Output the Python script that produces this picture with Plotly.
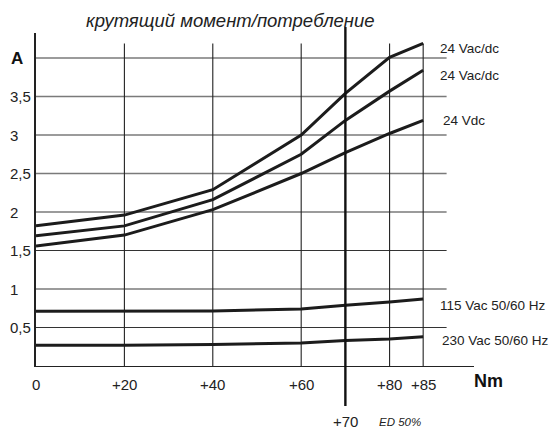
import plotly.graph_objects as go

# ---- data ----
torque_nm = [0, 20, 40, 60, 70, 80, 85]
series_names = ["24 Vac/dc", "24 Vac/dc", "24 Vdc", "115 Vac 50/60 Hz", "230 Vac 50/60 Hz"]
s_24vacdc_a = [1.82, 1.96, 2.29, 3.00, 3.54, 4.01, 4.19]
s_24vacdc_b = [1.69, 1.82, 2.16, 2.75, 3.19, 3.57, 3.84]
s_24vdc = [1.56, 1.70, 2.03, 2.50, 2.77, 3.02, 3.19]
s_115vac = [0.71, 0.71, 0.715, 0.74, 0.79, 0.83, 0.87]
s_230vac = [0.27, 0.27, 0.28, 0.30, 0.33, 0.35, 0.38]
series_values = [s_24vacdc_a, s_24vacdc_b, s_24vdc, s_115vac, s_230vac]

x_ticks = [0, 20, 40, 60, 80, 85]
x_tick_labels = ["0", "+20", "+40", "+60", "+80", "+85"]
y_ticks = [0.5, 1, 1.5, 2, 2.5, 3, 3.5]
y_tick_labels = ["0,5", "1", "1,5", "2", "2,5", "3", "3,5"]
y_unit_tick = 4
ed_torque = 70

title_text = "крутящий момент/потребление"

# ---- scale: the drawing stretches the 80..85 segment ----
def x_pos(nm):
    return nm if nm <= 80 else 80 + (nm - 80) * 1.52

FONT = "Liberation Sans, Arial, sans-serif"
INK = "#1c1c1c"
X_MAX = 99.1
Y_MAX = 4.325
GRID_END = 92.9
VGRID_TOP = 4.19

fig = go.Figure()

for name, vals in zip(series_names, series_values):
    fig.add_trace(go.Scatter(
        x=[x_pos(v) for v in torque_nm], y=vals, mode="lines", name=name,
        line=dict(color=INK, width=3), showlegend=False, hoverinfo="skip"))

shapes = []
# horizontal grid
grid_dark = {0.5, 1.5}
for yv in y_ticks + [y_unit_tick]:
    dark = yv in grid_dark
    shapes.append(dict(type="line", xref="x", yref="y", x0=0, x1=GRID_END, y0=yv, y1=yv,
                       line=dict(color="#333333" if dark else "#7a7a7a", width=1.1 if dark else 1.6),
                       layer="below"))
# vertical grid
for xv in x_ticks[1:]:
    shapes.append(dict(type="line", xref="x", yref="y", x0=x_pos(xv), x1=x_pos(xv), y0=0, y1=VGRID_TOP,
                       line=dict(color="#222222", width=1.1), layer="below"))
# ED 50% line
shapes.append(dict(type="line", xref="x", yref="paper", x0=x_pos(ed_torque), x1=x_pos(ed_torque),
                   y0=-0.12, y1=1.018, line=dict(color="#111111", width=2.4), layer="above"))

annotations = []
# y tick labels
for yv, t in zip(y_ticks, y_tick_labels):
    annotations.append(dict(xref="paper", yref="y", x=-0.064, y=yv, text=t, showarrow=False,
                            xanchor="left", yanchor="middle", font=dict(family=FONT, size=15, color="#222")))
annotations.append(dict(xref="paper", yref="y", x=-0.062, y=y_unit_tick, text="<b>A</b>", showarrow=False,
                        xanchor="left", yanchor="middle", font=dict(family=FONT, size=17, color="#111")))
# x tick labels
for xv, t in zip(x_ticks, x_tick_labels):
    annotations.append(dict(xref="x", yref="paper", x=x_pos(xv), y=-0.057, text=t, showarrow=False,
                            xanchor="center", yanchor="middle", font=dict(family=FONT, size=15, color="#222")))
annotations.append(dict(xref="paper", yref="paper", x=1.032, y=-0.045, text="<b>Nm</b>", showarrow=False,
                        xanchor="center", yanchor="middle", font=dict(family=FONT, size=18, color="#111")))
annotations.append(dict(xref="x", yref="paper", x=x_pos(ed_torque), y=-0.167, text="+70", showarrow=False,
                        xanchor="center", yanchor="middle", font=dict(family=FONT, size=15, color="#222")))
annotations.append(dict(xref="paper", yref="paper", x=(400 - 36) / 438, y=-0.168, text="<i>ED 50%</i>",
                        showarrow=False, xanchor="center", yanchor="middle",
                        font=dict(family=FONT, size=11.5, color="#222")))
# series labels
label_shift = [(15, -5), (15, -5), (18, 0), (15, -6), (17, -4)]
for name, vals, (dx, dy) in zip(series_names, series_values, label_shift):
    annotations.append(dict(xref="x", yref="y", x=x_pos(torque_nm[-1]), y=vals[-1], text=name,
                            showarrow=False, xanchor="left", yanchor="middle", xshift=dx, yshift=dy,
                            font=dict(family=FONT, size=13.5, color="#222")))
# title
annotations.append(dict(xref="paper", yref="paper", x=0.445, y=1.039, text="<i>" + title_text + "</i>",
                        showarrow=False, xanchor="center", yanchor="middle",
                        font=dict(family=FONT, size=18.5, color="#222")))

fig.update_layout(
    width=550, height=434,
    margin=dict(l=36, r=76, t=33, b=68),
    paper_bgcolor="white", plot_bgcolor="white",
    shapes=shapes, annotations=annotations,
    xaxis=dict(range=[0, X_MAX], showgrid=False, zeroline=False, showticklabels=False, ticks="",
               showline=True, linecolor="#222222", linewidth=1.3, fixedrange=True),
    yaxis=dict(range=[0, Y_MAX], showgrid=False, zeroline=False, showticklabels=False, ticks="",
               showline=True, linecolor="#222222", linewidth=1.5, fixedrange=True),
)

fig.write_html("out.html", config={"displayModeBar": False},
               post_script="document.body.style.margin='0px';")
